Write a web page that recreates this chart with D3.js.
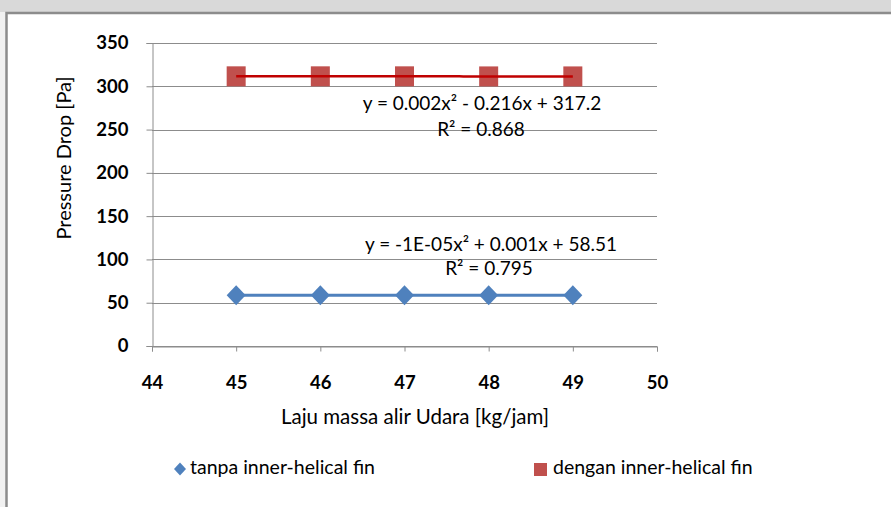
<!DOCTYPE html>
<html>
<head>
<meta charset="utf-8">
<script src="https://cdn.jsdelivr.net/npm/d3@7/dist/d3.min.js"></script>
<style>
  html, body { margin: 0; padding: 0; background: #ffffff; }
  svg { display: block; }
  text { font-family: Lato, "Open Sans", sans-serif; fill: #000; }
</style>
</head>
<body>
<svg id="chart" width="891" height="507"></svg>
<script>
// Air mass flow rate (kg/jam) at each measurement
const massFlow = [45, 46, 47, 48, 49];
// Pressure drop (Pa) without and with the inner-helical fin
const tanpaFin = [58.5, 58.5, 58.5, 58.5, 58.5];
const denganFin = [311.5, 311.5, 311.5, 311.4, 311.4];
// Polynomial trendline coefficients [a, b, c] for y = a x^2 + b x + c
const fitTanpa = [-1e-5, 0.001, 58.51];
const fitDengan = [0.002, -0.216, 317.2];
const xTicks = [44, 45, 46, 47, 48, 49, 50];
const yTicks = [0, 50, 100, 150, 200, 250, 300, 350];
const seriesNames = ["tanpa inner-helical fin", "dengan inner-helical fin"];
const fitLabels = [
  ["y = -1E-05x² + 0.001x + 58.51", "R² = 0.795"],
  ["y = 0.002x² - 0.216x + 317.2", "R² = 0.868"]
];
const xTitle = "Laju massa alir Udara [kg/jam]";
const yTitle = "Pressure Drop [Pa]";

const svg = d3.select("#chart");

// page backdrop and chart frame
svg.append("rect").attr("x", 0).attr("y", 0).attr("width", 891).attr("height", 507).attr("fill", "#f1f1f1");
svg.append("rect").attr("x", 0).attr("y", 0).attr("width", 891).attr("height", 12).attr("fill", "#d9d9d9");
svg.append("rect").attr("x", 6.5).attr("y", 13).attr("width", 900).attr("height", 600)
  .attr("fill", "#ffffff").attr("stroke", "#8c8c8c").attr("stroke-width", 2.5);

const x = d3.scaleLinear().domain([44, 50]).range([152, 657]);
const y = d3.scaleLinear().domain([0, 350]).range([346, 43]);

// horizontal gridlines
svg.append("g").selectAll("line").data(yTicks).join("line")
  .attr("x1", x(44)).attr("x2", x(50))
  .attr("y1", d => Math.round(y(d)) + 0.5).attr("y2", d => Math.round(y(d)) + 0.5)
  .attr("stroke", "#8c8c8c").attr("stroke-width", 1);

// y axis
const yAxis = svg.append("g").attr("transform", `translate(${x(44) + 0.5},0)`)
  .call(d3.axisLeft(y).tickValues(yTicks).tickSize(6).tickPadding(18).tickFormat(d3.format("d")));
yAxis.select(".domain").attr("stroke", "#8c8c8c");
yAxis.selectAll(".tick line").attr("stroke", "#8c8c8c");
yAxis.selectAll(".tick text").attr("font-family", "Lato").attr("font-size", 18.5).attr("font-weight", "bold").attr("fill", "#000");

// x axis
const xAxis = svg.append("g").attr("transform", `translate(0,${Math.round(y(0)) + 0.5})`)
  .call(d3.axisBottom(x).tickValues(xTicks).tickSize(5).tickPadding(24).tickFormat(d3.format("d")));
xAxis.select(".domain").attr("stroke", "#8c8c8c");
xAxis.selectAll(".tick line").attr("stroke", "#8c8c8c");
xAxis.selectAll(".tick text").attr("font-family", "Lato").attr("font-size", 18.5).attr("font-weight", "bold").attr("fill", "#000");

// axis titles
svg.append("text").attr("x", 415).attr("y", 419).attr("text-anchor", "middle")
  .attr("dominant-baseline", "middle").attr("font-size", 20.5).text(xTitle);
svg.append("text").attr("transform", "translate(66,158) rotate(-90)").attr("text-anchor", "middle")
  .attr("dominant-baseline", "middle").attr("font-size", 20).text(yTitle);

// trendlines from fitted polynomials
const poly = c => v => c[0] * v * v + c[1] * v + c[2];
const trendX = d3.range(45, 49.0001, 0.05);
const line = d3.line().x(d => x(d[0])).y(d => y(d[1]));

svg.append("path").datum(trendX.map(v => [v, poly(fitTanpa)(v)]))
  .attr("d", line).attr("fill", "none").attr("stroke", "#4f81bd").attr("stroke-width", 3);

// markers: squares for the finned tube
svg.append("g").selectAll("rect").data(massFlow.map((m, i) => [m, denganFin[i]])).join("rect")
  .attr("x", d => x(d[0]) - 9.5).attr("y", d => y(d[1]) - 10)
  .attr("width", 19).attr("height", 20).attr("fill", "#c0504d");

svg.append("path").datum(trendX.map(v => [v, poly(fitDengan)(v)]))
  .attr("d", line).attr("fill", "none").attr("stroke", "#c00000").attr("stroke-width", 2.5);

// markers: diamonds for the plain tube
const diamond = (cx, cy, w, h) => `M${cx},${cy - h / 2}L${cx + w / 2},${cy}L${cx},${cy + h / 2}L${cx - w / 2},${cy}Z`;
svg.append("g").selectAll("path").data(massFlow.map((m, i) => [m, tanpaFin[i]])).join("path")
  .attr("d", d => diamond(x(d[0]), y(d[1]), 19, 20)).attr("fill", "#4f81bd");

// trendline equations and R² values
const eq = (cx, cy, s) => svg.append("text").attr("x", cx).attr("y", cy).attr("text-anchor", "middle")
  .attr("dominant-baseline", "middle").attr("font-size", 19).text(s);
eq(482, 105, fitLabels[1][0]);
eq(481, 131, fitLabels[1][1]);
eq(491, 246, fitLabels[0][0]);
eq(489, 270, fitLabels[0][1]);

// legend
svg.append("path").attr("d", diamond(180, 469, 12, 13)).attr("fill", "#4f81bd");
svg.append("text").attr("x", 190).attr("y", 469).attr("dominant-baseline", "middle")
  .attr("font-size", 19.5).text(seriesNames[0]);
svg.append("rect").attr("x", 534).attr("y", 463).attr("width", 13).attr("height", 13).attr("fill", "#c0504d");
svg.append("text").attr("x", 553).attr("y", 469).attr("dominant-baseline", "middle")
  .attr("font-size", 19.5).text(seriesNames[1]);
</script>
</body>
</html>
